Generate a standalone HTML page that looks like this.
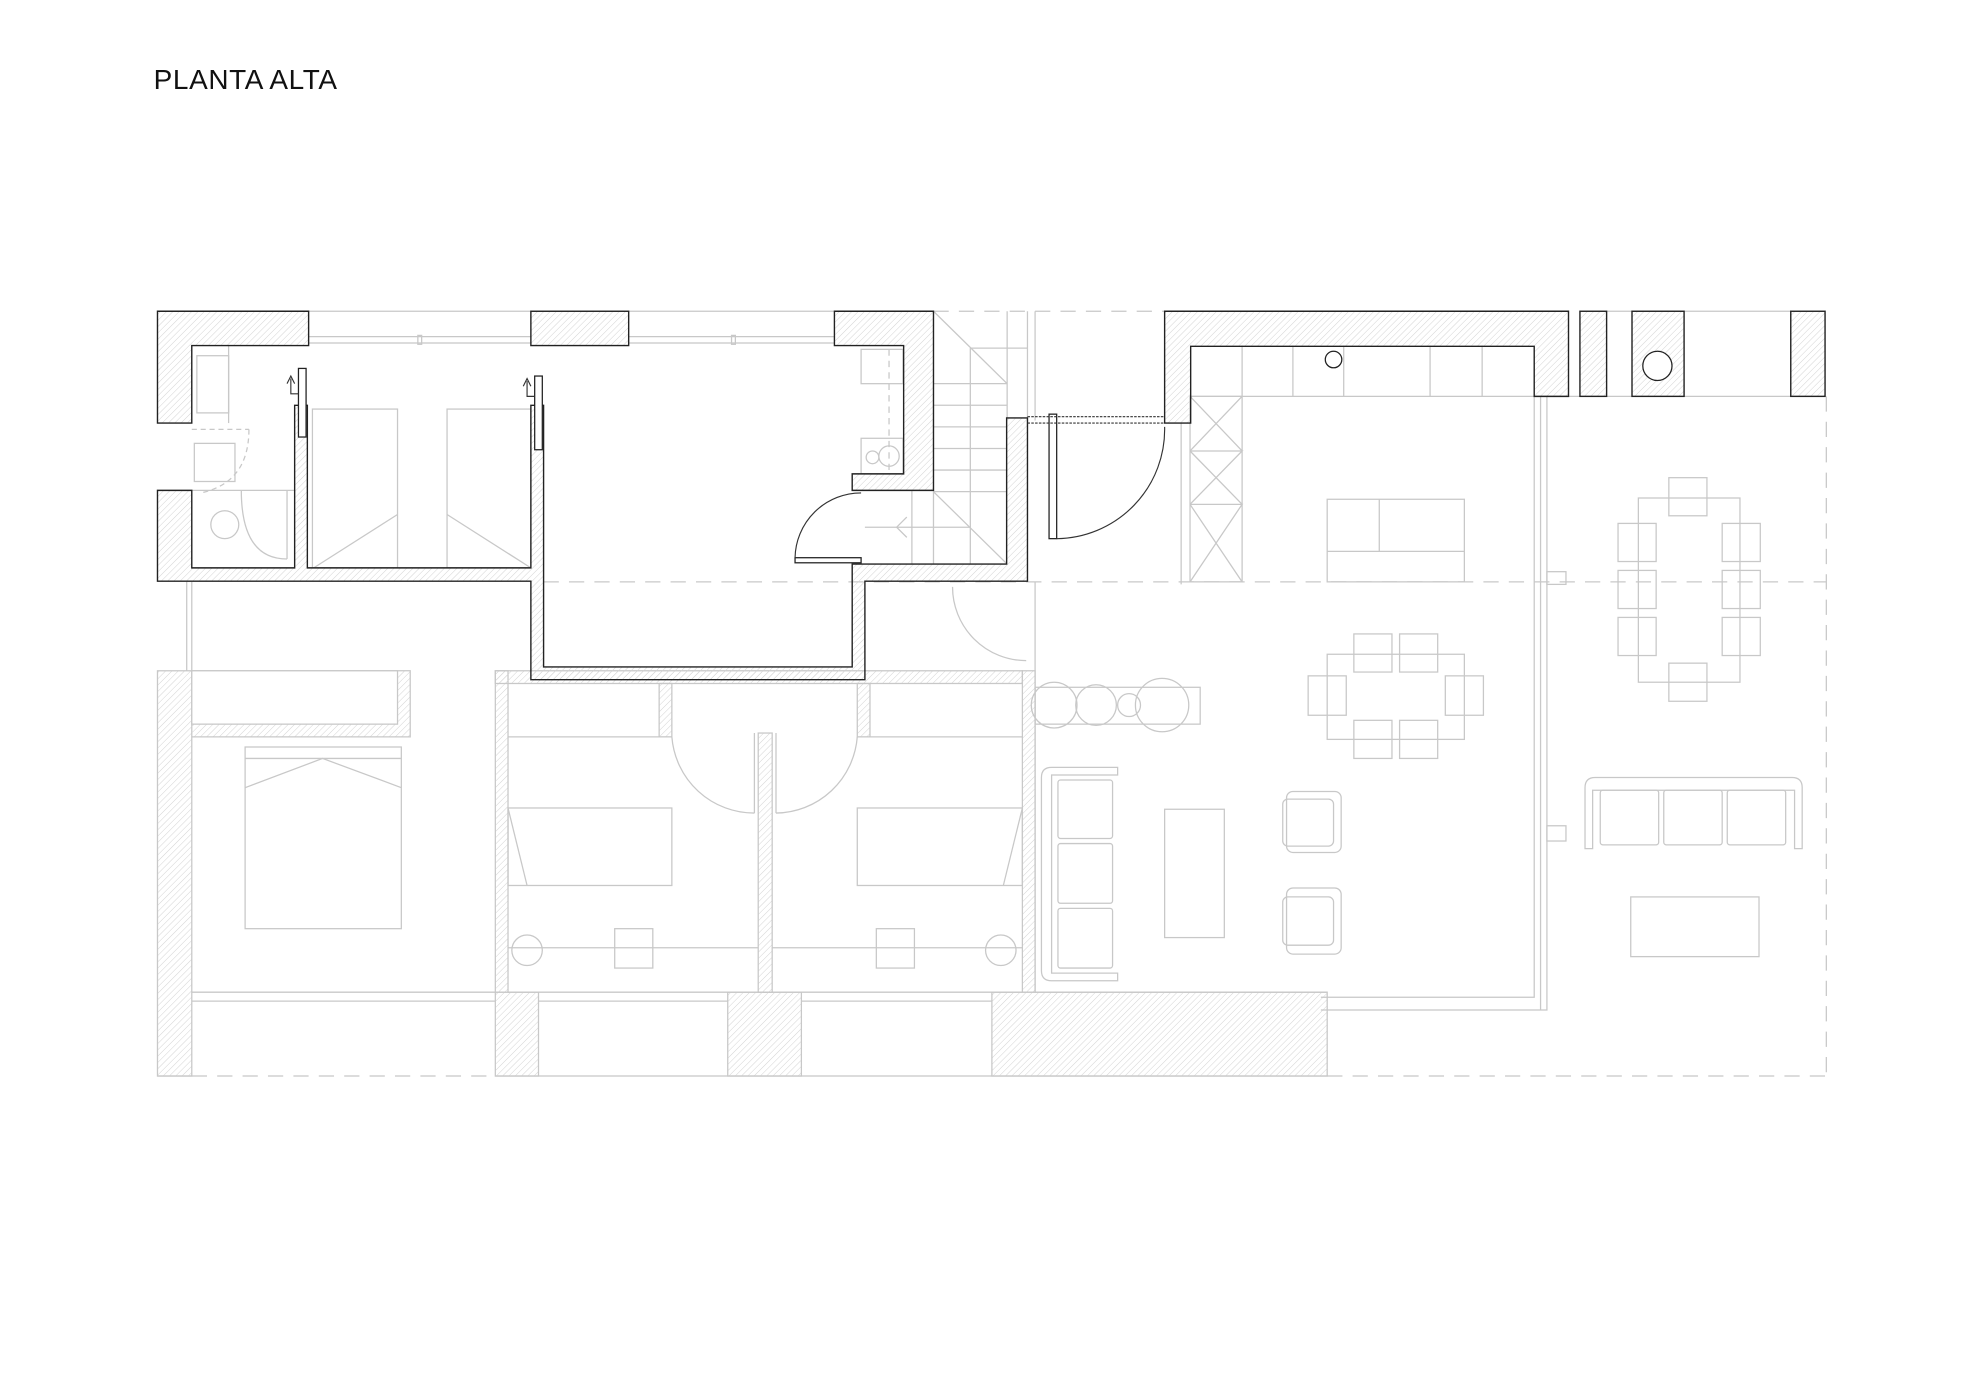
<!DOCTYPE html>
<html><head><meta charset="utf-8"><style>html,body{margin:0;padding:0;background:#fff}svg{display:block}</style></head>
<body>
<svg width="1980" height="1400" viewBox="0 0 1559 1102" preserveAspectRatio="none" xmlns="http://www.w3.org/2000/svg">
<defs>
<pattern id="h" patternUnits="userSpaceOnUse" width="3.5" height="3.5" patternTransform="rotate(45)">
<line x1="0" y1="0" x2="0" y2="3.5" stroke="#d4d4d4" stroke-width="0.8"/></pattern>
</defs>
<rect width="1559" height="1102" fill="#fff"/>
<text x="121" y="70" font-family="Liberation Sans, sans-serif" font-size="22" fill="#111" letter-spacing="0.5">PLANTA ALTA</text>

<g fill="none" stroke="#c8c8c8" stroke-width="1">
<line x1="243" y1="245" x2="657" y2="245"/>
<line x1="243" y1="265" x2="418" y2="265"/><line x1="243" y1="270" x2="418" y2="270"/>
<line x1="495" y1="265" x2="657" y2="265"/><line x1="495" y1="270" x2="657" y2="270"/>
<rect x="329" y="264" width="3" height="7"/><rect x="576" y="264" width="3" height="7"/>
<line x1="1265" y1="245" x2="1410" y2="245"/>
<line x1="1235" y1="312" x2="1437" y2="312"/>
<g stroke-dasharray="12,8">
<line x1="735" y1="245" x2="917" y2="245"/>
<line x1="428" y1="458" x2="1438" y2="458"/>
<line x1="1438" y1="312" x2="1438" y2="847"/>
<line x1="151" y1="847" x2="390" y2="847"/>
<line x1="1045" y1="847" x2="1438" y2="847"/>
</g>
<line x1="124" y1="847" x2="151" y2="847"/>
<line x1="390" y1="847" x2="1045" y2="847"/>
<rect x="155" y="280" width="25" height="45"/>
<line x1="180" y1="272" x2="180" y2="333"/>
<path d="M151 338 H196 M196 338 Q196 380 158 388" stroke-dasharray="4,3"/>
<rect x="153" y="349" width="32" height="30"/>
<line x1="151" y1="386" x2="232" y2="386"/>
<circle cx="177" cy="413" r="11"/>
<path d="M190 386 Q190 440 226 440"/><line x1="226" y1="386" x2="226" y2="440"/>
<rect x="246" y="322" width="67" height="125"/>
<rect x="352" y="322" width="66" height="125"/>
<line x1="247" y1="447" x2="313" y2="405"/><line x1="352" y1="405" x2="418" y2="447"/>
<rect x="678" y="275" width="33" height="27"/><rect x="678" y="345" width="33" height="28"/>
<circle cx="687" cy="360" r="5"/><circle cx="700" cy="359" r="8"/>
<line x1="700" y1="275" x2="700" y2="373" stroke-dasharray="5,4"/>
<line x1="735" y1="245" x2="793" y2="302"/><line x1="764" y1="274" x2="764" y2="444"/>
<line x1="764" y1="274" x2="809" y2="274"/><line x1="793" y1="245" x2="793" y2="329"/>
<line x1="809" y1="245" x2="809" y2="329"/><line x1="815" y1="245" x2="815" y2="331"/>
<g><line x1="735" y1="302" x2="793" y2="302"/><line x1="735" y1="319" x2="793" y2="319"/><line x1="735" y1="336" x2="793" y2="336"/><line x1="735" y1="353" x2="793" y2="353"/><line x1="735" y1="370" x2="793" y2="370"/><line x1="735" y1="387" x2="793" y2="387"/></g>
<line x1="735" y1="387" x2="793" y2="444"/><line x1="718" y1="386" x2="718" y2="444"/><line x1="735" y1="386" x2="735" y2="444"/>
<line x1="681" y1="415" x2="764" y2="415"/><path d="M714 407 L706 415 L714 423"/>
<rect x="124" y="528" width="27" height="319" fill="url(#h)"/>
<path d="M151 528 H323 V580 H151" fill="url(#h)"/><rect x="151" y="528" width="162" height="42" fill="#fff"/>
<line x1="147" y1="458" x2="147" y2="528"/><line x1="151" y1="458" x2="151" y2="528"/>
<rect x="193" y="588" width="123" height="143"/><line x1="193" y1="597" x2="316" y2="597"/>
<path d="M193 620 L254 597 L316 620"/>
<line x1="151" y1="781" x2="390" y2="781"/><line x1="151" y1="788" x2="390" y2="788"/>
<rect x="390" y="528" width="10" height="253" fill="url(#h)"/>
<rect x="390" y="528" width="415" height="10" fill="url(#h)"/>
<rect x="805" y="528" width="10" height="253" fill="url(#h)"/>
<rect x="597" y="577" width="11" height="204" fill="url(#h)"/>
<rect x="519" y="538" width="10" height="42" fill="url(#h)"/><rect x="675" y="538" width="10" height="42" fill="url(#h)"/>
<line x1="400" y1="580" x2="519" y2="580"/><line x1="685" y1="580" x2="805" y2="580"/>
<path d="M529 580 A65 65 0 0 0 594 640 M594 577 V640"/>
<path d="M675 580 A65 65 0 0 1 611 640 M611 577 V640"/>
<rect x="400" y="636" width="129" height="61"/><line x1="400" y1="636" x2="415" y2="697"/>
<rect x="675" y="636" width="130" height="61"/><line x1="805" y1="636" x2="790" y2="697"/>
<line x1="400" y1="746" x2="597" y2="746"/><line x1="608" y1="746" x2="805" y2="746"/>
<circle cx="415" cy="748" r="12"/><rect x="484" y="731" width="30" height="31"/>
<circle cx="788" cy="748" r="12"/><rect x="690" y="731" width="30" height="31"/>
<line x1="400" y1="781" x2="805" y2="781"/>
<rect x="390" y="781" width="34" height="66" fill="url(#h)"/>
<rect x="573" y="781" width="58" height="66" fill="url(#h)"/>
<rect x="781" y="781" width="264" height="66" fill="url(#h)"/>
<line x1="424" y1="788" x2="573" y2="788"/><line x1="631" y1="788" x2="781" y2="788"/>
<line x1="815" y1="458" x2="815" y2="781"/><line x1="815" y1="781" x2="1045" y2="781"/>
<path d="M1040 785 H1208 V312"/><path d="M1040 795 H1218 V312"/><line x1="1213" y1="312" x2="1213" y2="795"/>
<rect x="1218" y="450" width="15" height="10"/><rect x="1218" y="650" width="15" height="12"/>
<path d="M750 462 A58 58 0 0 0 808 520"/>
<line x1="937" y1="312" x2="1208" y2="312"/>
<line x1="978" y1="272" x2="978" y2="312"/><line x1="1018" y1="272" x2="1018" y2="312"/><line x1="1058" y1="272" x2="1058" y2="312"/><line x1="1126" y1="272" x2="1126" y2="312"/><line x1="1167" y1="272" x2="1167" y2="312"/>
<line x1="930" y1="333" x2="930" y2="460"/>
<rect x="937" y="312" width="41" height="146"/>
<path d="M937 312 L978 355 M978 312 L937 355 M937 355 H978 L937 397 M937 355 L978 397 M937 397 H978 L937 458 M937 397 L978 458"/>
<rect x="1045" y="393" width="108" height="65"/><line x1="1045" y1="434" x2="1153" y2="434"/><line x1="1086" y1="393" x2="1086" y2="434"/>
<rect x="815" y="541" width="130" height="29"/>
<circle cx="830" cy="555" r="18"/><circle cx="863" cy="555" r="16"/><circle cx="889" cy="555" r="9"/><circle cx="915" cy="555" r="21"/>
<rect x="1045" y="515" width="108" height="67"/>
<rect x="1066" y="499" width="30" height="30"/><rect x="1102" y="499" width="30" height="30"/>
<rect x="1066" y="567" width="30" height="30"/><rect x="1102" y="567" width="30" height="30"/>
<rect x="1030" y="532" width="30" height="31"/><rect x="1138" y="532" width="30" height="31"/>
<path d="M880 604 H828 Q820 604 820 612 V764 Q820 772 828 772 H880 V766 H828 V610 H880 Z"/>
<rect x="833" y="614" width="43" height="46" rx="2"/><rect x="833" y="664" width="43" height="47" rx="2"/><rect x="833" y="715" width="43" height="47" rx="2"/>
<rect x="917" y="637" width="47" height="101"/>
<rect x="1013" y="623" width="43" height="48" rx="5"/><rect x="1010" y="629" width="40" height="37" rx="4"/>
<rect x="1013" y="699" width="43" height="52" rx="5"/><rect x="1010" y="706" width="40" height="38" rx="4"/>
<rect x="1274" y="412" width="30" height="30"/><rect x="1274" y="449" width="30" height="30"/><rect x="1274" y="486" width="30" height="30"/>
<rect x="1356" y="412" width="30" height="30"/><rect x="1356" y="449" width="30" height="30"/><rect x="1356" y="486" width="30" height="30"/>
<rect x="1290" y="392" width="80" height="145"/>
<rect x="1314" y="376" width="30" height="30"/><rect x="1314" y="522" width="30" height="30"/>
<path d="M1248 668 V620 Q1248 612 1256 612 H1411 Q1419 612 1419 620 V668 H1413 V622 H1254 V668 Z"/>
<rect x="1260" y="622" width="46" height="43" rx="2"/><rect x="1310" y="622" width="46" height="43" rx="2"/><rect x="1360" y="622" width="46" height="43" rx="2"/>
<rect x="1284" y="706" width="101" height="47"/>
</g>

<g fill="url(#h)" stroke="#222" stroke-width="1.1">
<path d="M124 245 H243 V272 H151 V333 H124 Z"/>
<rect x="418" y="245" width="77" height="27"/>
<path d="M657 245 H735 V386 H671 V373 H711.5 V272 H657 Z"/>
<path d="M124 386 H151 V447 H232 V319 H242 V447 H418 V319 H428 V525 H671 V444 H681 L792.6 444 V329 H809 V457.5 H681 V535 H418 V457.5 H124 Z"/>
<path d="M917 245 H1235 V312 H1208 V272.6 H937.5 V333 H917 Z"/>
<rect x="1244" y="245" width="21" height="67"/>
<rect x="1285" y="245" width="41" height="67"/>
<rect x="1410" y="245" width="27" height="67"/>
</g>
<g fill="#fff" stroke="#222" stroke-width="1">
<circle cx="1305" cy="288" r="11.5"/>
<circle cx="1050" cy="283" r="6.5"/>
<rect x="235" y="290" width="6" height="54"/>
<rect x="421" y="296" width="6" height="58"/>
<rect x="826" y="326" width="6" height="98"/>
<rect x="626" y="439" width="52" height="4"/>
</g>
<g fill="none" stroke="#333" stroke-width="0.9">
<path d="M832 424 A86 86 0 0 0 917 336"/>
<path d="M626 439 A52 52 0 0 1 678 388"/>
<line x1="809" y1="328" x2="917" y2="328" stroke-dasharray="2,1"/>
<line x1="809" y1="333" x2="917" y2="333" stroke-dasharray="2,1"/>
<path d="M235 310 H229 V298 M226 302 L229 296 L232 302"/>
<path d="M421 312 H415 V300 M412 304 L415 298 L418 304"/>
</g>
</svg>
</body></html>
